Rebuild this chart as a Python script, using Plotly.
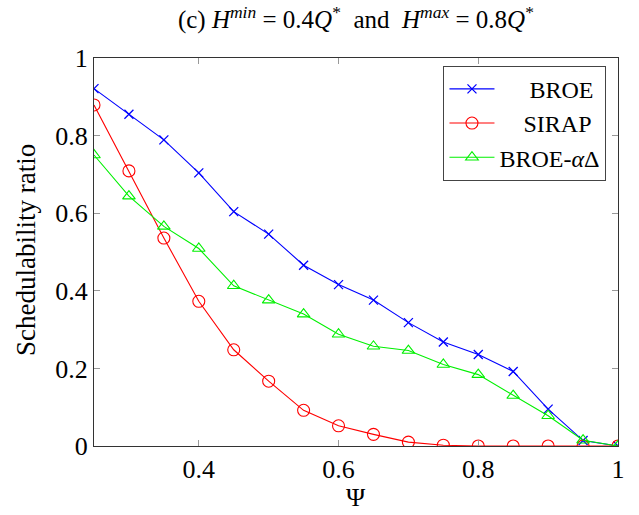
import plotly.graph_objects as go

# Utilization ratio values on the horizontal axis
psi = [0.25, 0.30, 0.35, 0.40, 0.45, 0.50, 0.55, 0.60, 0.65, 0.70,
       0.75, 0.80, 0.85, 0.90, 0.95, 1.00]

broe = [0.921, 0.855, 0.789, 0.704, 0.604, 0.546, 0.466, 0.416, 0.376, 0.318,
        0.268, 0.236, 0.192, 0.095, 0.014, 0.0]
sirap = [0.879, 0.709, 0.536, 0.373, 0.248, 0.167, 0.092, 0.052, 0.030, 0.010,
         0.002, 0.0, 0.0, 0.0, 0.0, 0.0]
broe_ad = [0.750, 0.644, 0.566, 0.509, 0.413, 0.376, 0.340, 0.288, 0.257, 0.246,
           0.210, 0.184, 0.130, 0.078, 0.015, 0.0]

x_ticks = [0.4, 0.6, 0.8, 1.0]
x_tick_text = ["0.4", "0.6", "0.8", "1"]
y_ticks = [0, 0.2, 0.4, 0.6, 0.8, 1.0]
y_tick_text = ["0", "0.2", "0.4", "0.6", "0.8", "1"]

FONT = "Liberation Serif"
NB = "\u00a0"

fig = go.Figure()
fig.add_trace(go.Scatter(
    x=psi, y=broe, name=NB * 5 + "BROE", mode="lines+markers",
    line=dict(color="#0000ff", width=1.1),
    marker=dict(symbol="x-thin-open", size=9, line=dict(color="#0000ff", width=1.3)),
))
fig.add_trace(go.Scatter(
    x=psi, y=sirap, name=NB * 4 + "SIRAP", mode="lines+markers",
    line=dict(color="#ff0000", width=1.1),
    marker=dict(symbol="circle-open", size=12, color="#ff0000", line=dict(width=1.1)),
))
fig.add_trace(go.Scatter(
    x=psi, y=broe_ad, name="BROE-<i>α</i>Δ", mode="lines+markers",
    line=dict(color="#00f000", width=1.1),
    marker=dict(symbol="triangle-up-open", size=11, color="#00f000", line=dict(width=1.1)),
))

axis_common = dict(
    showline=True, linecolor="#333333", linewidth=1, mirror="ticks",
    ticks="inside", ticklen=6, tickcolor="#999999", tickwidth=1,
    showgrid=False, zeroline=False, automargin=False,
    tickfont=dict(family=FONT, size=26, color="black"),
)

fig.update_layout(
    width=639, height=515,
    margin=dict(l=94, r=21, t=58, b=69),
    paper_bgcolor="white", plot_bgcolor="white",
    font=dict(family=FONT, color="black"),
    title=dict(
        text="(c) <i>H</i><sup><i>min</i></sup> = 0.4<i>Q</i><sup>*</sup>  and  "
             "<i>H</i><sup><i>max</i></sup> = 0.8<i>Q</i><sup>*</sup>",
        x=0.557, xanchor="center", y=0.962, yanchor="middle",
        font=dict(family=FONT, size=25, color="black"),
    ),
    xaxis=dict(range=[0.25, 1.0], tickvals=x_ticks, ticktext=x_tick_text, **axis_common),
    yaxis=dict(range=[0, 1.0], tickvals=y_ticks, ticktext=y_tick_text, **axis_common),
    legend=dict(
        x=0.978, xanchor="right", y=0.98, yanchor="top",
        bgcolor="white", bordercolor="#444444", borderwidth=1,
        font=dict(family=FONT, size=24, color="black"),
        itemwidth=45, tracegroupgap=0,
    ),
    showlegend=True,
    annotations=[
        # axis titles
        dict(text="Ψ", xref="paper", yref="paper", x=0.5, y=-0.133,
             xanchor="center", yanchor="middle", showarrow=False,
             font=dict(family=FONT, size=26, color="black")),
        dict(text="Schedulability ratio", xref="paper", yref="paper", x=-0.13, y=0.505,
             xanchor="center", yanchor="middle", textangle=-90, showarrow=False,
             font=dict(family=FONT, size=27, color="black")),
    ],
)

fig.write_html("out.html")
